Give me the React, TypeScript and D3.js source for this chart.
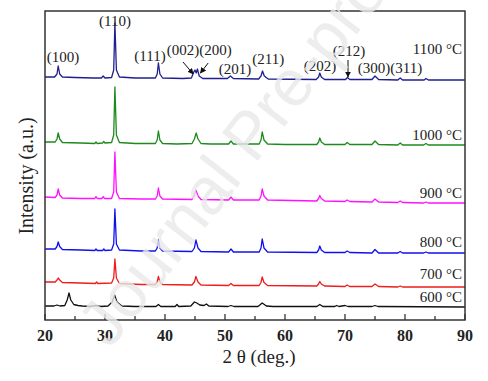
import React from "react";
import * as d3 from "d3";

// ---- data (2θ in degrees, intensity in a.u.; each trace already offset) ----
const s1100: [number, number][] = [
  [20, 243], [21.6, 243], [22.0, 246], [22.2, 254], [22.45, 246], [22.9, 243], [25, 242.5], [28, 242],
  [29.4, 242], [29.7, 244], [30.0, 242], [31.1, 242.5], [31.45, 250], [31.65, 297], [31.9, 250], [32.4, 243],
  [35, 242], [38.4, 242], [38.7, 246], [38.9, 257], [39.15, 246], [39.6, 242], [43, 241.5], [44.4, 242],
  [44.8, 248], [45.0, 250], [45.2, 247], [45.4, 251], [45.7, 244], [46.3, 241.5], [50.4, 241.5], [50.9, 244],
  [51.4, 241.5], [55.6, 241], [56.0, 244], [56.25, 249], [56.55, 244], [57.2, 241], [65.2, 240.5], [65.6, 243],
  [65.8, 247], [66.05, 243], [66.6, 240.5], [70.1, 240.5], [70.4, 242.5], [70.8, 240.5], [74.5, 240.5],
  [75.0, 244], [75.6, 240.5], [78.8, 240], [79.2, 242], [79.6, 240], [83.2, 240], [83.5, 241.5], [83.9, 240],
  [90, 240],
];
const s1000: [number, number][] = [
  [20, 178], [21.7, 178], [22.0, 181], [22.2, 187], [22.45, 181], [22.9, 177.5], [26, 177], [28.3, 176.5],
  [28.5, 178], [28.7, 176.5], [29.6, 177], [29.8, 178.5], [30.0, 177], [31.1, 177.5], [31.45, 185],
  [31.65, 233], [31.9, 185], [32.4, 177.5], [35, 176.5], [36.5, 176.5], [38.4, 176.5], [38.7, 180],
  [38.9, 189], [39.15, 180], [39.6, 176.5], [42, 176], [44.5, 176.5], [44.9, 181], [45.2, 187], [45.5, 181],
  [46, 176.5], [47.5, 176], [50.6, 176], [51.0, 179], [51.4, 176], [53, 176], [55.7, 176], [56.0, 180],
  [56.2, 188], [56.5, 180], [57.1, 176], [60, 175.5], [65.3, 175.5], [65.6, 178], [65.8, 182], [66.05, 178],
  [66.6, 175.5], [70.0, 175.5], [70.35, 177.5], [70.8, 175.5], [74.5, 175.5], [75.0, 179], [75.6, 175.5],
  [78.8, 175], [79.2, 177], [79.6, 175], [83.1, 175], [83.5, 176.5], [83.9, 175], [90, 175],
];
const s900: [number, number][] = [
  [20, 123], [21.7, 122.5], [22.0, 125], [22.2, 131], [22.45, 125], [22.9, 122], [26, 121.5], [28.3, 121.5],
  [28.5, 123.5], [28.7, 121.5], [29.5, 121.5], [29.7, 123.5], [29.9, 121.5], [31.1, 121.5], [31.45, 128],
  [31.65, 168], [31.9, 128], [32.4, 121.5], [36, 121], [38.4, 121], [38.7, 124], [38.9, 132], [39.15, 124],
  [39.6, 121], [44.5, 120.5], [44.9, 125], [45.15, 130], [45.5, 124], [46, 120.5], [50.6, 120], [51.0, 123],
  [51.4, 120], [55.7, 120], [56.0, 124], [56.2, 131], [56.5, 124], [57.1, 120], [65.3, 119], [65.6, 121.5],
  [65.8, 124.5], [66.05, 121.5], [66.6, 119], [70.0, 118.5], [70.35, 120], [70.8, 118.5], [74.5, 118],
  [75.0, 121], [75.6, 118], [78.8, 117.5], [79.2, 119], [79.6, 117.5], [83.1, 117], [83.5, 118], [83.9, 117],
  [90, 117],
];
const s800: [number, number][] = [
  [20, 71], [21.7, 71], [22.0, 73.5], [22.2, 78], [22.45, 73.5], [22.9, 70.5], [26, 70], [28.3, 69.5],
  [28.5, 71], [28.7, 69.5], [29.6, 69.5], [29.8, 71], [30, 69.5], [31.1, 70], [31.45, 76], [31.65, 111],
  [31.9, 76], [32.4, 70], [36, 69], [38.4, 69], [38.7, 72], [38.9, 80], [39.15, 72], [39.6, 69], [44.5, 68.5],
  [44.9, 72], [45.15, 80], [45.5, 72], [46, 68.5], [50.6, 68], [51.0, 71], [51.4, 68], [55.7, 68], [56.0, 72],
  [56.2, 81], [56.5, 72], [57.1, 68], [65.3, 67.5], [65.6, 70], [65.8, 74], [66.05, 70], [66.6, 67.5],
  [70.0, 67.5], [70.35, 69], [70.8, 67.5], [74.5, 67], [75.0, 70.5], [75.6, 67], [78.8, 67], [79.2, 68.5],
  [79.6, 67], [83.1, 67], [83.5, 68], [83.9, 67], [90, 67],
];
const s700: [number, number][] = [
  [20, 38], [21.7, 38], [22.0, 40], [22.2, 42], [22.45, 40], [22.9, 37.5], [26, 37], [28.4, 36.5], [28.6, 38],
  [28.8, 36.5], [31.1, 37], [31.45, 42], [31.65, 61], [31.9, 42], [32.4, 36.5], [36, 35.5], [38.4, 35.5],
  [38.7, 38], [38.9, 43.5], [39.15, 38], [39.6, 35.5], [44.5, 35], [44.9, 38], [45.15, 43.5], [45.5, 38],
  [46, 35], [50.6, 34.5], [51.0, 36.5], [51.4, 34.5], [55.7, 34.5], [56.0, 37.5], [56.2, 43], [56.5, 37.5],
  [57.1, 34.5], [65.3, 34], [65.6, 36], [65.8, 38.5], [66.05, 36], [66.6, 34], [70.0, 33.5], [70.35, 35],
  [70.8, 33.5], [74.5, 33.5], [75.0, 36], [75.6, 33.5], [78.8, 33], [79.2, 34], [79.6, 33], [90, 33],
];
const s600: [number, number][] = [
  [20, 14], [21.5, 14], [22, 15], [22.5, 14], [23.3, 14.5], [23.7, 20], [24.0, 27], [24.3, 20], [24.8, 15.5],
  [25.5, 14.5], [26.2, 14], [27.5, 13.5], [28.5, 14.5], [29.3, 13.5], [30.5, 14], [31.2, 18], [31.6, 25],
  [32.0, 18], [32.8, 14], [35, 13.5], [38.5, 13.5], [38.9, 15.5], [39.3, 13.5], [41.7, 13.5], [42.0, 15.5],
  [42.3, 13.5], [44.3, 14], [44.9, 18], [45.3, 17], [45.8, 15], [46.5, 14.5], [46.9, 16], [47.3, 14],
  [50.5, 13.5], [51, 14.5], [51.5, 13.5], [55.5, 13.5], [56.2, 17], [56.9, 14], [58, 13.5], [65.3, 13.5],
  [65.8, 15.5], [66.3, 13.5], [68.3, 13.5], [68.6, 14.5], [69, 13.5], [70, 14.5], [70.5, 13.5], [74.5, 13.5],
  [75, 14.5], [75.5, 13.5], [90, 13],
];

const seriesData = [s1100, s1000, s900, s800, s700, s600];
const seriesNames = ["1100 °C", "1000 °C", "900 °C", "800 °C", "700 °C", "600 °C"];
const seriesColors = ["#1f1f8f", "#1d8a1d", "#ff10ff", "#1010ee", "#ee1c1c", "#111111"];
// label baseline level (intensity a.u.) for each temperature label
const seriesLabelLevel = [266, 180, 122, 73, 41, 18];

const majorTicks = [20, 30, 40, 50, 60, 70, 80, 90];
const minorTicks = [25, 35, 45, 55, 65, 75, 85];

// Miller index labels: [text, 2θ centre, intensity level of baseline]
const hklLabels: [string, number, number][] = [
  ["(100)", 23.0, 258],
  ["(110)", 31.67, 294],
  ["(111)", 37.5, 259],
  ["(002)(200)", 45.7, 265],
  ["(201)", 51.67, 246],
  ["(211)", 57.2, 256],
  ["(202)", 65.83, 249],
  ["(212)", 70.67, 264],
  ["(300)(311)", 77.5, 247],
];
// arrows: [x1, y1, x2, y2] in (2θ, a.u.)
const arrows: [number, number, number, number][] = [
  [43.0, 258, 44.7, 246],
  [47.2, 257, 45.9, 247],
  [70.5, 260, 70.5, 243],
];

const W = 488;
const H = 381;
const M = { left: 45, right: 465, top: 11, bottom: 320 };

export default function App() {
  const x = d3.scaleLinear().domain([20, 90]).range([M.left, M.right]);
  const y = d3.scaleLinear().domain([0, 309]).range([M.bottom, M.top]);
  const line = d3
    .line<[number, number]>()
    .x((d) => x(d[0]))
    .y((d) => y(d[1]));
  const serif = "'Liberation Serif', 'Times New Roman', serif";
  const textFill = "#222";

  return (
    <svg
      width={W}
      height={H}
      style={{ position: "absolute", left: 0, top: 0, background: "#fff" }}
      fontFamily={serif}
    >
      <defs>
        <marker id="arr" viewBox="0 0 10 10" refX="9" refY="5" markerWidth="6" markerHeight="6" orient="auto">
          <path d="M0,0 L10,5 L0,10 z" fill="#111" />
        </marker>
      </defs>
      <rect x={0} y={0} width={W} height={H} fill="#fff" />
      {seriesData.map((d, i) => (
        <path key={i} d={line(d) || ""} fill="none" stroke={seriesColors[i]} strokeWidth={1.3} strokeLinejoin="round" />
      ))}
      {seriesNames.map((n, i) => (
        <text key={n} x={M.right - 3} y={y(seriesLabelLevel[i])} textAnchor="end" fontSize={15} fill={textFill}>
          {n}
        </text>
      ))}
      {hklLabels.map(([t, p, lv]) => (
        <text key={t} x={x(p)} y={y(lv)} textAnchor="middle" fontSize={15} fill={textFill}>
          {t}
        </text>
      ))}
      {arrows.map(([a, b, c, e], i) => (
        <line key={i} x1={x(a)} y1={y(b)} x2={x(c)} y2={y(e)} stroke="#111" strokeWidth={1} markerEnd="url(#arr)" />
      ))}
      {/* frame */}
      <rect
        x={M.left}
        y={M.top}
        width={M.right - M.left}
        height={M.bottom - M.top}
        fill="none"
        stroke="#333"
        strokeWidth={1.5}
      />
      {majorTicks.map((t) => (
        <g key={"M" + t}>
          <line x1={x(t)} x2={x(t)} y1={M.bottom} y2={M.bottom - 6} stroke="#333" strokeWidth={1.3} />
          <text x={x(t)} y={341} textAnchor="middle" fontSize={16} fontWeight="bold" fill={textFill}>
            {t}
          </text>
        </g>
      ))}
      {minorTicks.map((t) => (
        <line key={"m" + t} x1={x(t)} x2={x(t)} y1={M.bottom} y2={M.bottom - 4} stroke="#333" strokeWidth={1.3} />
      ))}
      <text x={259} y={363} textAnchor="middle" fontSize={19} fill={textFill}>
        2 θ (deg.)
      </text>
      <text transform="translate(33,176) rotate(-90)" textAnchor="middle" fontSize={20} fill={textFill}>
        Intensity (a.u.)
      </text>
      {/* watermark */}
      <text
        transform="translate(110,350) rotate(-52)"
        fontFamily="'Liberation Sans', Arial, sans-serif"
        fontSize={66}
        fill="#e8e8e8"
        fillOpacity={0.8}
      >
        Journal Pre-proof
      </text>
    </svg>
  );
}
